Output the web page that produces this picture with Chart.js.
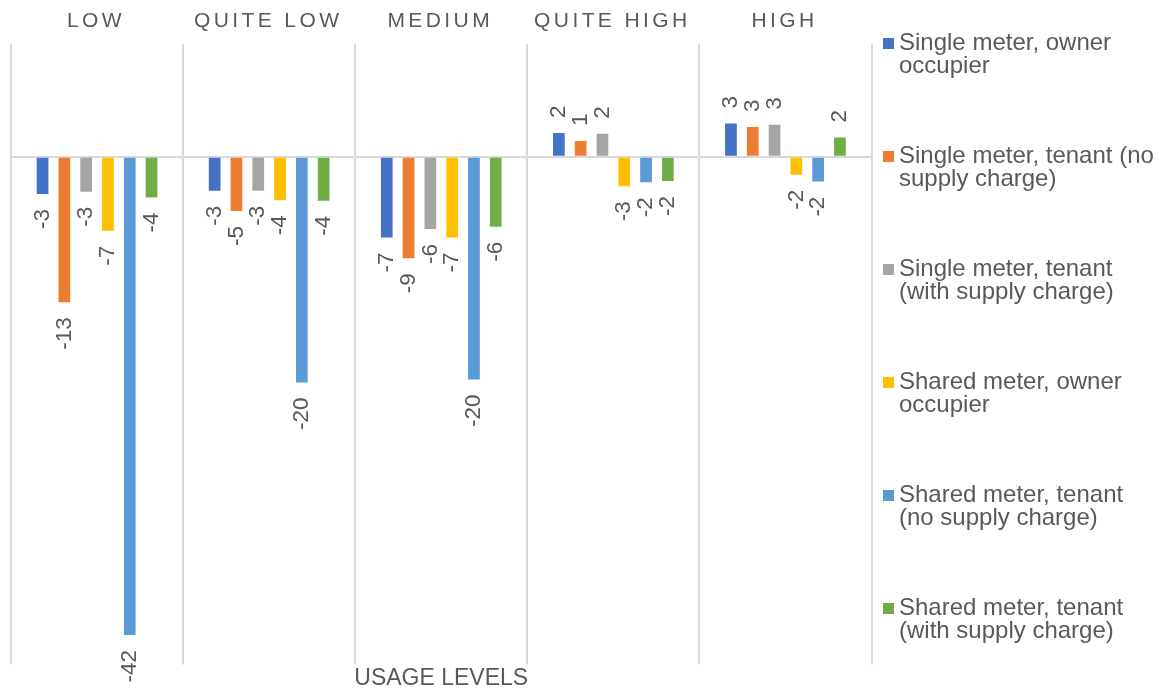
<!DOCTYPE html>
<html lang="en">
<head>
    <meta charset="UTF-8">
    <title>Usage levels</title>
    <script src="https://cdn.jsdelivr.net/npm/chart.js@4.4.0/dist/chart.umd.min.js"></script>
    <style>
        body { margin: 0; background: #fff; }
        #wrap { position: relative; width: 1162px; height: 693px; }
        #legend { position: absolute; left: 883px; top: 30px; font-family: 'Liberation Sans', Arial, sans-serif; }
        .item { position: relative; height: 113px; }
        .box { position: absolute; left: 0; top: 8px; width: 11px; height: 11px; }
        .txt { position: absolute; left: 16px; top: 0; width: 258px; font-size: 24px; line-height: 23px; color: #595959; }
    </style>
</head>
<body>
<div id="wrap">
    <canvas id="usage" width="1162" height="693"></canvas>
    <div id="legend"></div>
</div>
<script>
    var levels = ["LOW", "QUITE LOW", "MEDIUM", "QUITE HIGH", "HIGH"];
    var seriesNames = [
        "Single meter, owner occupier",
        "Single meter, tenant (no supply charge)",
        "Single meter, tenant (with supply charge)",
        "Shared meter, owner occupier",
        "Shared meter, tenant (no supply charge)",
        "Shared meter, tenant (with supply charge)"
    ];
    var colors = ["#4472C4", "#ED7D31", "#A5A5A5", "#FFC000", "#5B9BD5", "#70AD47"];

    var singleOwner = [-3.3, -3.0, -7.15, 2.1, 2.95];
    var singleTenantNoSupply = [-12.9, -4.8, -9.0, 1.4, 2.65];
    var singleTenantSupply = [-3.1, -3.0, -6.4, 2.05, 2.85];
    var sharedOwner = [-6.55, -3.85, -7.15, -2.6, -1.6];
    var sharedTenantNoSupply = [-42.4, -20.0, -19.75, -2.25, -2.2];
    var sharedTenantSupply = [-3.6, -3.9, -6.2, -2.15, 1.7];

    var seriesData = [singleOwner, singleTenantNoSupply, singleTenantSupply, sharedOwner, sharedTenantNoSupply, sharedTenantSupply];

    var textColor = "#595959";
    var fontFamily = "'Liberation Sans', Arial, sans-serif";

    var datasets = [];
    for (var i = 0; i < seriesData.length; i++) {
        datasets.push({
            label: seriesNames[i],
            data: seriesData[i],
            backgroundColor: colors[i],
            borderWidth: 0,
            categoryPercentage: 0.76,
            barPercentage: 0.537
        });
    }

    // value labels, rotated, just past the end of each bar
    var barLabels = {
        id: 'barLabels',
        afterDatasetsDraw: function (chart) {
            var ctx = chart.ctx;
            ctx.save();
            ctx.font = "22.5px " + fontFamily;
            ctx.fillStyle = textColor;
            ctx.textBaseline = 'middle';
            chart.data.datasets.forEach(function (ds, d) {
                chart.getDatasetMeta(d).data.forEach(function (bar, j) {
                    var v = ds.data[j];
                    var txt = String(Math.round(v));
                    ctx.save();
                    if (v < 0) {
                        ctx.translate(bar.x, bar.y + 15);
                        ctx.rotate(-Math.PI / 2);
                        ctx.textAlign = 'right';
                    } else {
                        ctx.translate(bar.x, bar.y - 15);
                        ctx.rotate(-Math.PI / 2);
                        ctx.textAlign = 'left';
                    }
                    ctx.fillText(txt, 0, 0);
                    ctx.restore();
                });
            });
            ctx.restore();
        }
    };

    // spaced-out category names above the plot
    var levelLabels = {
        id: 'levelLabels',
        afterDraw: function (chart) {
            var ctx = chart.ctx;
            var x = chart.scales.x;
            ctx.save();
            ctx.font = "21px " + fontFamily;
            ctx.fillStyle = textColor;
            ctx.textAlign = 'center';
            ctx.textBaseline = 'middle';
            ctx.letterSpacing = '3.4px';
            levels.forEach(function (name, i) {
                ctx.fillText(name, x.getPixelForTick(i) - 1, 21);
            });
            ctx.restore();
        }
    };

    var usageChart = new Chart(document.getElementById('usage').getContext('2d'), {
        type: 'bar',
        data: { labels: levels, datasets: datasets },
        options: {
            responsive: false,
            animation: false,
            layout: { padding: { left: 11, right: 290.5, top: 44, bottom: 0 } },
            plugins: { legend: { display: false }, tooltip: { enabled: false } },
            scales: {
                x: {
                    position: 'top',
                    grid: { color: '#D9D9D9', lineWidth: 2, drawTicks: false, offset: true },
                    border: { display: false },
                    ticks: { display: false }
                },
                x2: {
                    type: 'category',
                    labels: levels,
                    position: 'bottom',
                    grid: { display: false, drawTicks: false },
                    border: { display: false },
                    ticks: { display: false },
                    title: {
                        display: true,
                        text: 'USAGE LEVELS',
                        color: textColor,
                        font: { family: fontFamily, size: 23 },
                        padding: { top: 0, bottom: 1 }
                    }
                },
                y: {
                    min: -45,
                    max: 10,
                    ticks: { display: false, stepSize: 5 },
                    border: { display: false },
                    grid: {
                        drawTicks: false,
                        lineWidth: 2,
                        color: function (c) { return c.tick && c.tick.value === 0 ? '#D9D9D9' : 'rgba(0,0,0,0)'; }
                    }
                }
            }
        },
        plugins: [barLabels, levelLabels]
    });

    var legend = document.getElementById('legend');
    seriesNames.forEach(function (name, i) {
        var item = document.createElement('div');
        item.className = 'item';
        var box = document.createElement('div');
        box.className = 'box';
        box.style.background = colors[i];
        var txt = document.createElement('div');
        txt.className = 'txt';
        txt.textContent = name;
        item.appendChild(box);
        item.appendChild(txt);
        legend.appendChild(item);
    });
</script>
</body>
</html>
